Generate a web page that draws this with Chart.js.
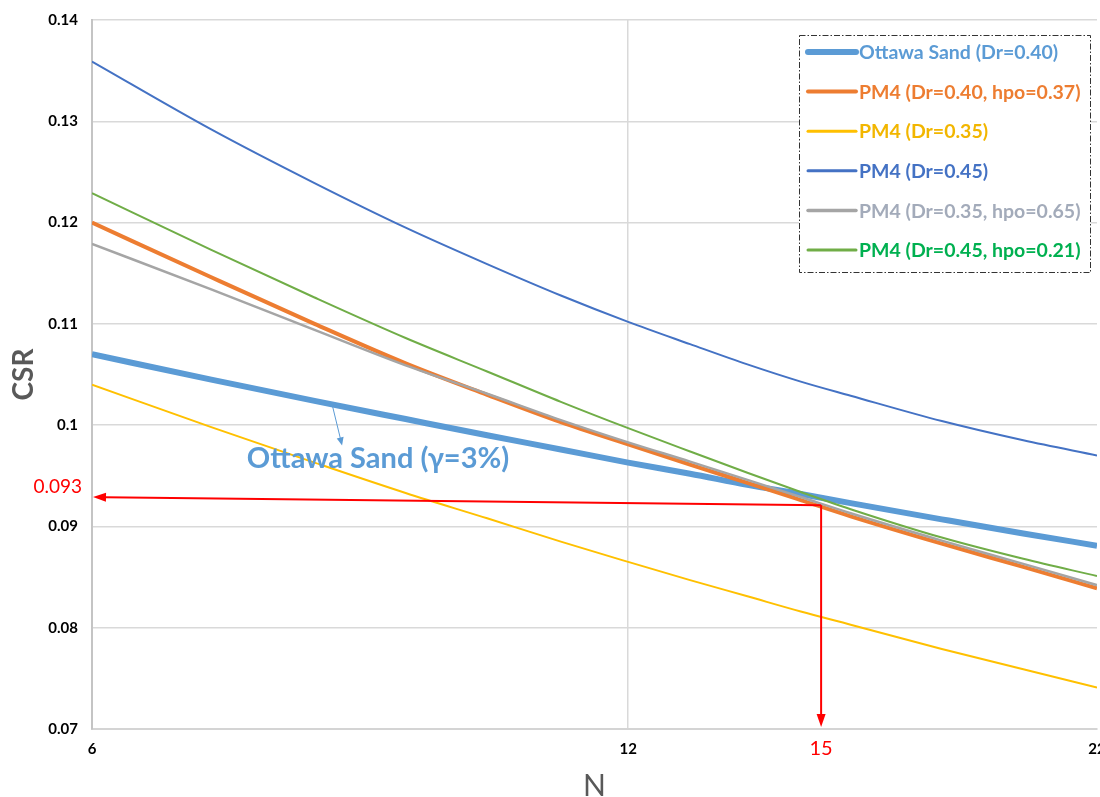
<!DOCTYPE html>
<html><head><meta charset="utf-8">
<script src="https://cdn.jsdelivr.net/npm/chart.js@4.4.1/dist/chart.umd.min.js"></script>
<style>html,body{margin:0;padding:0;background:#fff}#wrap{width:1100px;height:797px;position:relative}</style>
</head><body><div id="wrap"><canvas id="c"></canvas></div>
<script>
// ---- data ----
const cycles = [6, 7, 8, 9, 10, 11, 12, 13, 14, 15, 16, 18, 20, 22];
const ottawaSand = [0.1070, 0.1045, 0.1024, 0.1006, 0.0990, 0.0976, 0.0963, 0.0952, 0.0941, 0.0932, 0.0923, 0.0907, 0.0893, 0.0881];
const pm4Dr40Hpo37 = [0.1200, 0.1146, 0.1100, 0.1061, 0.1030, 0.1003, 0.0981, 0.0961, 0.0943, 0.0926, 0.0910, 0.0883, 0.0860, 0.0839];
const pm4Dr35 = [0.1040, 0.0998, 0.0963, 0.0933, 0.0908, 0.0885, 0.0865, 0.0847, 0.0831, 0.0816, 0.0803, 0.0779, 0.0759, 0.0741];
const pm4Dr45 = [0.1359, 0.1292, 0.1239, 0.1195, 0.1159, 0.1128, 0.1102, 0.1080, 0.1060, 0.1043, 0.1029, 0.1004, 0.0985, 0.0970];
const pm4Dr35Hpo65 = [0.1179, 0.1134, 0.1094, 0.1059, 0.1031, 0.1005, 0.0983, 0.0964, 0.0946, 0.0929, 0.0913, 0.0886, 0.0863, 0.0842];
const pm4Dr45Hpo21 = [0.1229, 0.1173, 0.1126, 0.1086, 0.1053, 0.1023, 0.0997, 0.0974, 0.0953, 0.0934, 0.0917, 0.0889, 0.0868, 0.0851];
const seriesLabels = ['Ottawa Sand (Dr=0.40)', 'PM4 (Dr=0.40, hpo=0.37)', 'PM4 (Dr=0.35)', 'PM4 (Dr=0.45)', 'PM4 (Dr=0.35, hpo=0.65)', 'PM4 (Dr=0.45, hpo=0.21)'];
const xTickValues = [6, 12, 22];
const yTickValues = [0.07, 0.08, 0.09, 0.10, 0.11, 0.12, 0.13, 0.14];
const xTitle = 'N';
const yTitle = 'CSR';
// annotation values (data units)
const refN = 15.4;            // red vertical guide
const refLabelN = '15';
const refCSR = 0.0921;        // corner of the red guides
const refCSRAxis = 0.0929;    // where horizontal guide meets the axis
const refLabelCSR = '0.093';
const curveNoteText = 'Ottawa Sand (\u03B3=3%)';
const curveNoteFrom = [8.18, 0.1022];
const curveNoteTo = [8.29, 0.0980];
const curveNoteTextAt = [7.33, 0.0967];

const toPts = arr => arr.map((v, i) => ({x: cycles[i], y: v}));

function mkSet(label, data, color, width, textColor, order, legendWidth) {
  return {label, data: toPts(data), borderColor: color, backgroundColor: color, borderWidth: width,
          pointRadius: 0, pointHoverRadius: 0, fill: false, cubicInterpolationMode: 'monotone',
          legendTextColor: textColor, legendWidth, order};
}

function arrowHead(ctx, x1, y1, x2, y2, len, half) {
  const a = Math.atan2(y2 - y1, x2 - x1);
  ctx.beginPath();
  ctx.moveTo(x2, y2);
  ctx.lineTo(x2 - len * Math.cos(a) + half * Math.sin(a), y2 - len * Math.sin(a) - half * Math.cos(a));
  ctx.lineTo(x2 - len * Math.cos(a) - half * Math.sin(a), y2 - len * Math.sin(a) + half * Math.cos(a));
  ctx.closePath();
  ctx.fill();
}
function arrow(ctx, x1, y1, x2, y2, len, half) {
  const a = Math.atan2(y2 - y1, x2 - x1);
  ctx.beginPath();
  ctx.moveTo(x1, y1);
  ctx.lineTo(x2 - (len - 1) * Math.cos(a), y2 - (len - 1) * Math.sin(a));
  ctx.stroke();
  arrowHead(ctx, x1, y1, x2, y2, len, half);
}

const annotPlugin = {
  id: 'annot',
  afterDatasetsDraw(chart) {
    const {ctx, scales: {x, y}} = chart;
    ctx.save();
    // Ottawa sand note
    ctx.strokeStyle = ctx.fillStyle = '#5B9BD5';
    ctx.lineWidth = 1;
    arrow(ctx, x.getPixelForValue(curveNoteFrom[0]), y.getPixelForValue(curveNoteFrom[1]),
          x.getPixelForValue(curveNoteTo[0]), y.getPixelForValue(curveNoteTo[1]), 8, 3.5);
    ctx.font = 'bold 29px Lato, sans-serif';
    ctx.textAlign = 'left'; ctx.textBaseline = 'middle';
    ctx.fillText(curveNoteText, x.getPixelForValue(curveNoteTextAt[0]), y.getPixelForValue(curveNoteTextAt[1]));
    // red guides
    const px = x.getPixelForValue(refN), py = y.getPixelForValue(refCSR);
    const ax = x.getPixelForValue(cycles[0]) + 1, ay = y.getPixelForValue(refCSRAxis);
    const by = y.getPixelForValue(yTickValues[0]) - 2;
    ctx.strokeStyle = ctx.fillStyle = '#FF0000';
    ctx.lineWidth = 2;
    arrow(ctx, px, py, ax, ay, 13, 4.5);
    arrow(ctx, px, py, px, by, 13, 4.5);
    ctx.font = '19px Lato, sans-serif';
    ctx.textAlign = 'right';
    ctx.fillText(refLabelCSR, x.left - 10, y.getPixelForValue(0.093) - 9);
    ctx.textAlign = 'center';
    ctx.font = '20px Lato, sans-serif';
    ctx.fillText(refLabelN, px, y.bottom + 20);
    ctx.restore();
  },
  afterDraw(chart) {
    const {ctx} = chart;
    const bx = 799, byy = 35, bw = 291, bh = 237;
    ctx.save();
    ctx.fillStyle = '#fff';
    ctx.fillRect(bx, byy, bw, bh);
    ctx.strokeStyle = '#333';
    ctx.lineWidth = 1;
    ctx.setLineDash([6, 2, 1.5, 2]);
    ctx.strokeRect(bx + 0.5, byy + 0.5, bw, bh);
    ctx.setLineDash([]);
    ctx.font = 'bold 19.5px Lato, sans-serif';
    ctx.textBaseline = 'middle';
    ctx.textAlign = 'left';
    chart.data.datasets.forEach((ds, i) => {
      const cy = 52 + i * 39.6;
      ctx.strokeStyle = ds.borderColor;
      ctx.lineWidth = ds.legendWidth;
      ctx.lineCap = 'round';
      ctx.beginPath(); ctx.moveTo(808, cy); ctx.lineTo(856, cy); ctx.stroke();
      ctx.fillStyle = ds.legendTextColor;
      ctx.fillText(ds.label, 859, cy + 1);
    });
    ctx.restore();
  }
};

new Chart(document.getElementById('c'), {
  type: 'line',
  data: {
    datasets: [
      mkSet(seriesLabels[0], ottawaSand, '#5B9BD5', 6, '#5B9BD5', 6, 6),
      mkSet(seriesLabels[1], pm4Dr40Hpo37, '#ED7D31', 4, '#ED7D31', 5, 4),
      mkSet(seriesLabels[2], pm4Dr35, '#FFC000', 2, '#F2B600', 4, 3),
      mkSet(seriesLabels[3], pm4Dr45, '#4472C4', 2, '#4472C4', 3, 3),
      mkSet(seriesLabels[4], pm4Dr35Hpo65, '#A5A5A5', 2.5, '#A3ABBA', 2, 3.5),
      mkSet(seriesLabels[5], pm4Dr45Hpo21, '#70AD47', 2, '#00B050', 1, 3)
    ]
  },
  options: {
    responsive: true, maintainAspectRatio: false, animation: false,
    layout: {padding: {top: 20, right: 3, left: 0, bottom: 0}},
    plugins: {legend: {display: false}, tooltip: {enabled: false}},
    scales: {
      x: {
        type: 'logarithmic', min: cycles[0], max: cycles[cycles.length - 1],
        afterBuildTicks: s => { s.ticks = xTickValues.map(v => ({value: v})); },
        afterFit: s => { s.height = 68; s.paddingLeft = 0; s.paddingRight = 0; },
        ticks: {callback: v => String(v), color: '#000', font: {family: 'Lato, sans-serif', size: 15, weight: 'bold'}, padding: 11, maxRotation: 0, autoSkip: false},
        grid: {drawTicks: false, lineWidth: 1.5, color: c => (c.tick && c.tick.value === xTickValues[1]) ? '#d9d9d9' : 'rgba(0,0,0,0)'},
        border: {display: true, color: '#d4d4d4', width: 2},
        title: {display: true, text: xTitle, color: '#595959', font: {family: 'Lato, sans-serif', size: 30, weight: 'normal', lineHeight: 0.7}, padding: {top: 0, bottom: 0}}
      },
      y: {
        type: 'linear', min: yTickValues[0], max: yTickValues[yTickValues.length - 1],
        afterBuildTicks: s => { s.ticks = yTickValues.map(v => ({value: v})); },
        afterFit: s => { s.width = 92; s.paddingTop = 0; s.paddingBottom = 0; },
        ticks: {callback: v => String(+v.toFixed(3)), color: '#000', font: {family: 'Lato, sans-serif', size: 15, weight: 'bold'}, padding: 14},
        grid: {drawTicks: false, lineWidth: 1.5, color: '#d9d9d9'},
        border: {display: true, color: '#c4c4c4', width: 2},
        title: {display: true, text: yTitle, color: '#595959', font: {family: 'Lato, sans-serif', size: 28, weight: 'bold', lineHeight: 1}, padding: {top: 10, bottom: 0}}
      }
    }
  },
  plugins: [annotPlugin]
});
</script></body></html>
